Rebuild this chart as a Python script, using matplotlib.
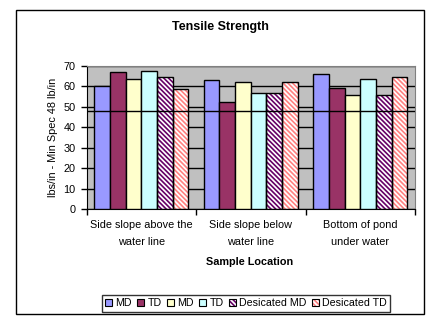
import matplotlib
matplotlib.use("Agg")
import matplotlib.pyplot as plt
import numpy as np
from matplotlib.patches import Patch, Rectangle
from matplotlib.legend_handler import HandlerTuple

categories = ["Side slope above the\nwater line", "Side slope below\nwater line", "Bottom of pond\nunder water"]
series_names = ["MD", "TD", "MD", "TD", "Desicated MD", "Desicated TD"]
md1 = [60.0, 63.2, 65.9]
td1 = [67.1, 52.3, 59.3]
md2 = [63.6, 62.2, 55.7]
td2 = [67.6, 56.6, 63.6]
des_md = [64.6, 56.6, 55.7]
des_td = [58.8, 62.2, 64.6]
min_spec = 48
yticks = [0, 10, 20, 30, 40, 50, 60, 70]

plt.rcParams['font.family'] = ['Liberation Sans', 'DejaVu Sans']
plt.rcParams['hatch.linewidth'] = 1.2

W, H = 443, 327
fig = plt.figure(figsize=(W/100, H/100), dpi=100)
fig.patch.set_facecolor('white')

def fx(x): return x / W
def fy(y): return 1 - y / H

# chart border
fig.patches.append(Rectangle((fx(15.5), fy(314)), fx(424.5) - fx(15.5), fy(10) - fy(314),
                             transform=fig.transFigure, fill=False, edgecolor='black', lw=1))

ax = fig.add_axes([fx(86.5), fy(209), fx(415) - fx(86.5), fy(66) - fy(209)])
ax.set_facecolor('#C0C0C0')

HATCH = '\\' * 7
data = [md1, td1, md2, td2, des_md, des_td]
styles = [
    dict(face='#9999FF', hatch=None, hc=None),
    dict(face='#993366', hatch=None, hc=None),
    dict(face='#FFFFCC', hatch=None, hc=None),
    dict(face='#CCFFFF', hatch=None, hc=None),
    dict(face='white', hatch=HATCH, hc='#660066'),
    dict(face='white', hatch=HATCH, hc='#FF8080'),
]
n = len(data)
bw = 1.0 / (n + 1)
x = np.arange(len(categories))
handles = []
for i, (vals, st) in enumerate(zip(data, styles)):
    pos = x - 0.5 + bw / 2 + bw * (i + 0.5)
    if st['hatch']:
        ax.bar(pos, vals, width=bw, color=st['face'], edgecolor=st['hc'], hatch=st['hatch'], lw=0, zorder=2)
        ax.bar(pos, vals, width=bw, fill=False, edgecolor='black', lw=1, zorder=3)
        h = (Patch(facecolor=st['face'], edgecolor=st['hc'], hatch=HATCH, lw=0),
             Patch(fill=False, edgecolor='black', lw=0.8))
    else:
        ax.bar(pos, vals, width=bw, color=st['face'], edgecolor='black', lw=1, zorder=3)
        h = Patch(facecolor=st['face'], edgecolor='black', lw=0.8)
    handles.append(h)

ax.axhline(min_spec, color='black', lw=1, zorder=4)
ax.set_ylim(0, 70)
ax.set_xlim(-0.5, len(categories) - 0.5)
ax.set_yticks(yticks)
ax.yaxis.grid(True, color='black', lw=1, zorder=1)
ax.set_axisbelow(True)
ax.set_xticks(np.arange(len(categories) + 1) - 0.5)
ax.set_xticklabels([])
ax.tick_params(axis='x', length=4, width=1, direction='out', color='black')
ax.tick_params(axis='y', length=4, width=1, direction='out', labelsize=7.8, pad=4)
for s in ['top', 'right']:
    ax.spines[s].set_color('#808080')
for s in ['left', 'bottom']:
    ax.spines[s].set_color('black')

for i, c in enumerate(categories):
    line1, line2 = c.split('\n')
    xc = fx(86.5) + (i + 0.5) * (fx(415) - fx(86.5)) / 3
    fig.text(xc, fy(225), line1, ha='center', va='center', fontsize=7.8)
    fig.text(xc, fy(241.7), line2, ha='center', va='center', fontsize=7.8)

fig.text(fx(250), fy(262.3), "Sample Location", ha='center', va='center', fontsize=7.8, fontweight='bold')
fig.text(fx(220), fy(27), "Tensile Strength", ha='center', va='center', fontsize=9, fontweight='bold')
fig.text(fx(53), fy(137), "lbs/in - Min Spec 48 lb/in", ha='center', va='center', rotation=90, fontsize=7.8)

leg = fig.legend(handles, series_names, loc='center', bbox_to_anchor=(fx(246), fy(303.5)),
                 ncol=6, fontsize=7.7, frameon=True, fancybox=False, edgecolor='black',
                 handlelength=0.65, handleheight=0.65, handletextpad=0.3, columnspacing=0.5,
                 borderpad=0.35, borderaxespad=0,
                 handler_map={tuple: HandlerTuple(ndivide=1, pad=0)})
leg.get_frame().set_linewidth(1)

fig.savefig('out.png', dpi=100, facecolor='white')
